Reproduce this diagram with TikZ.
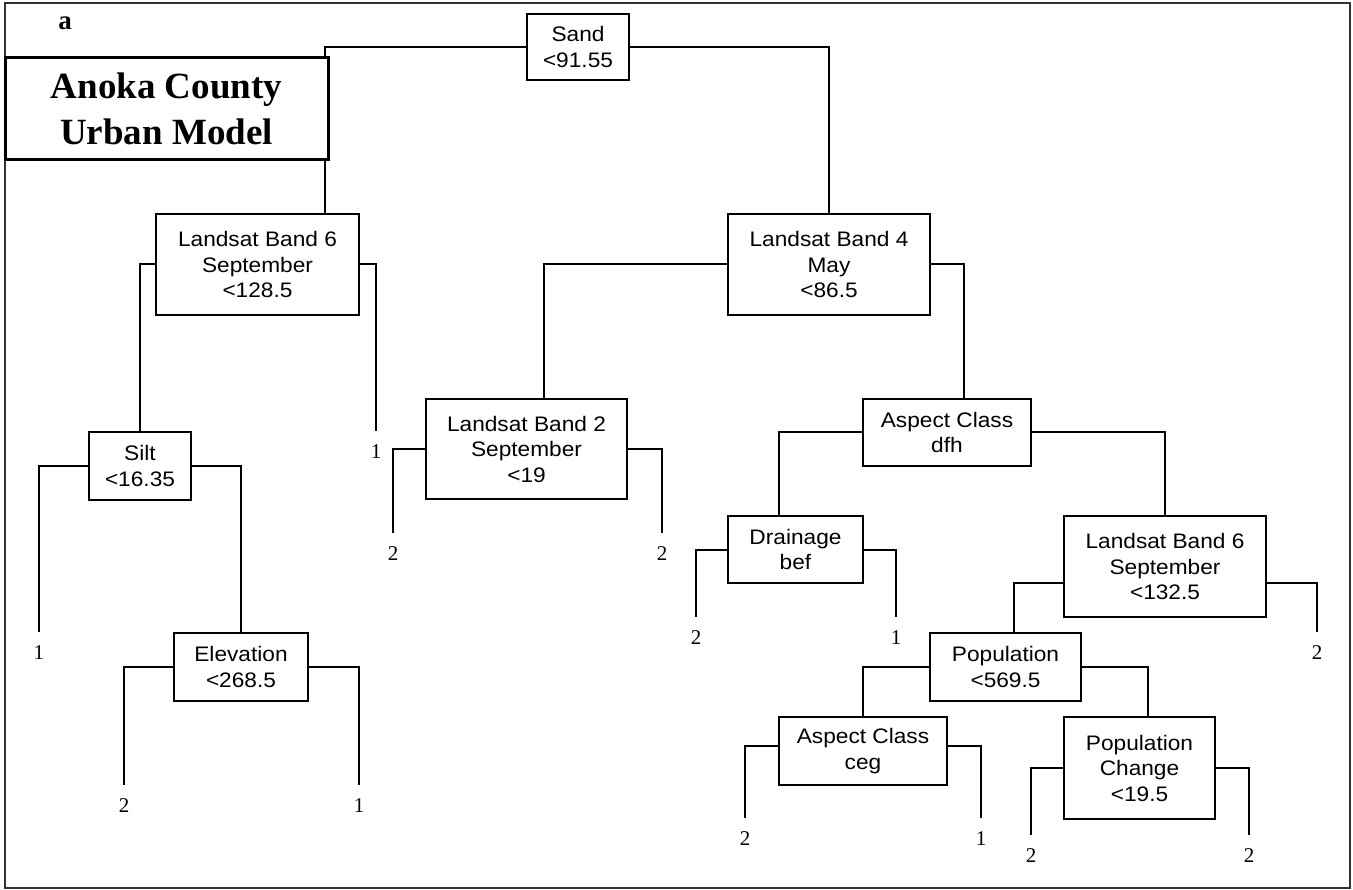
\documentclass[tikz,border=0pt]{standalone}
\usepackage{fontspec}
\setmainfont{Liberation Serif}
\newfontfamily\boxfont[FakeStretch=1.08]{Liberation Sans}

\tikzset{
    split/.style={draw, line width=2pt, fill=white, align=center, inner sep=0pt,
        font=\boxfont\fontsize{21}{25.5}\selectfont},
    leaf/.style={inner sep=0pt, font=\fontsize{21}{25}\selectfont},
    branch/.style={line width=2pt},
}

\begin{document}
\begin{tikzpicture}[x=1pt, y=-1pt]
    \useasboundingbox (0,0) rectangle (1353,890);
    % Marco exterior
    \draw[line width=2pt, black!80] (5,3) rectangle (1350,888);
    \node[font=\bfseries\fontsize{27}{30}\selectfont] (panel) at (65,23) {a};

    % Nodos de decision
    \node[split, minimum width=102, minimum height=66] (sand) at (578,47) {Sand\\<91.55};
    \node[split, minimum width=203, minimum height=101] (bandsix) at (257.5,264.5) {Landsat Band 6\\September\\<128.5};
    \node[split, minimum width=202, minimum height=101] (bandfour) at (829,264.5) {Landsat Band 4\\May\\<86.5};
    \node[split, minimum width=102, minimum height=68] (silt) at (140,466) {Silt\\<16.35};
    \node[split, minimum width=134, minimum height=68] (elev) at (241,667) {Elevation\\<268.5};
    \node[split, minimum width=201, minimum height=100] (bandtwo) at (526.5,449) {Landsat Band 2\\September\\<19};
    \node[split, minimum width=168, minimum height=67] (aspect) at (947,432.5) {Aspect Class\\dfh};
    \node[split, minimum width=135, minimum height=67] (drain) at (795.5,549.5) {Drainage\\bef};
    \node[split, minimum width=202, minimum height=101] (bandsixb) at (1165,566.5) {Landsat Band 6\\September\\<132.5};
    \node[split, minimum width=151, minimum height=68] (pop) at (1005.5,667) {Population\\<569.5};
    \node[split, minimum width=168, minimum height=68] (aspectb) at (863,751) {Aspect Class\\ceg};
    \node[split, minimum width=151, minimum height=102] (popch) at (1139.5,768) {Population\\Change\\<19.5};

    % Hojas (clases finales)
    \foreach \name/\x/\y/\v in {la/376/452/1, lb/39/653/1, lc/124/806/2, ld/359/806/1,
        le/393/554/2, lf/662/554/2, lg/696/638/2, lh/896/638/1, li/1317/653/2,
        lj/745/839/2, lk/981/839/1, ll/1031/856/2, lm/1249/856/2} {
        \node[leaf] (\name) at (\x,\y) {\v};
    }

    % Ramas
    \draw[branch] (sand.west) -| ([xshift=67.5]bandsix.north);
    \draw[branch] (sand.east) -| (bandfour.north);
    \draw[branch] (bandsix.west) -| (silt.north);
    \draw[branch] (bandsix.east) -| ([yshift=14]la.north);
    \draw[branch] (silt.west) -| ([yshift=14]lb.north);
    \draw[branch] (silt.east) -| (elev.north);
    \draw[branch] (elev.west) -| ([yshift=14]lc.north);
    \draw[branch] (elev.east) -| ([yshift=14]ld.north);
    \draw[branch] (bandfour.west) -| ([xshift=17.5]bandtwo.north);
    \draw[branch] (bandfour.east) -| ([xshift=17]aspect.north);
    \draw[branch] (bandtwo.west) -| ([yshift=14]le.north);
    \draw[branch] (bandtwo.east) -| ([yshift=14]lf.north);
    \draw[branch] (aspect.west) -| ([xshift=-16.5]drain.north);
    \draw[branch] (aspect.east) -| (bandsixb.north);
    \draw[branch] (drain.west) -| ([yshift=14]lg.north);
    \draw[branch] (drain.east) -| ([yshift=14]lh.north);
    \draw[branch] ([yshift=-16.5]bandsixb.west) -| ([xshift=8.5]pop.north);
    \draw[branch] ([yshift=-16.5]bandsixb.east) -| ([yshift=14]li.north);
    \draw[branch] (pop.west) -| (aspectb.north);
    \draw[branch] (pop.east) -| ([xshift=8.5]popch.north);
    \draw[branch] ([yshift=5]aspectb.west) -| ([yshift=14]lj.north);
    \draw[branch] ([yshift=5]aspectb.east) -| ([yshift=14]lk.north);
    \draw[branch] (popch.west) -| ([yshift=14]ll.north);
    \draw[branch] (popch.east) -| ([yshift=14]lm.north);

    % Titulo (tapa la rama de la raiz)
    \node[draw, line width=3pt, fill=white, align=center, inner sep=0pt,
        minimum width=323, minimum height=102,
        font=\bfseries\fontsize{37}{46}\selectfont] (title) at (166.5,109) {Anoka County\\Urban Model};
\end{tikzpicture}
\end{document}
